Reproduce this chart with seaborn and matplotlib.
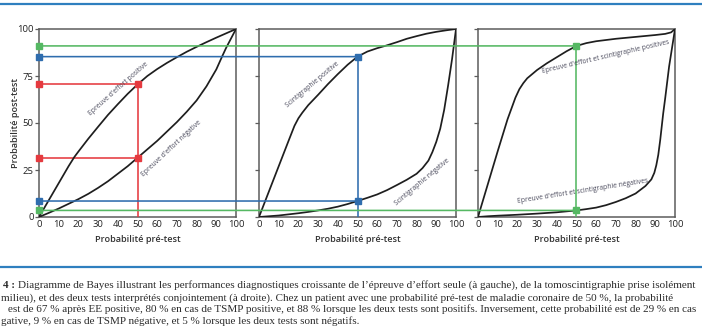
import matplotlib
matplotlib.use("Agg")
import matplotlib.pyplot as plt
import seaborn as sns
import pandas as pd
from matplotlib.patches import ConnectionPatch
from matplotlib.lines import Line2D

# ---------------------------------------------------------------- data
pretest_ticks = [0, 10, 20, 30, 40, 50, 60, 70, 80, 90, 100]
posttest_ticks = [0, 25, 50, 75, 100]

# Exercise test (épreuve d'effort)
ee_pos_x = [0, 5, 10, 15, 18, 20, 25, 30, 35, 40, 45, 50, 55, 60, 65, 70,
            75, 80, 85, 90, 95, 100]
ee_pos_y = [0, 9, 18, 27, 32, 34.8, 41.6, 48, 54.3, 60, 65.5, 70.5, 75,
            78.7, 82, 85, 87.9, 90.5, 93, 95.4, 97.7, 100]
ee_neg_x = [0, 5, 10, 15, 20, 25, 30, 35, 40, 45, 50, 55, 60, 65, 70, 75,
            80, 85, 90, 93, 95, 97, 100]
ee_neg_y = [0, 2.2, 4.5, 7, 9.5, 12.3, 15.5, 19, 23, 27, 31.5, 36, 40.5,
            45.5, 50.5, 56, 62, 69.5, 78.5, 85.5, 90, 94, 100]

# Myocardial scintigraphy
sc_pos_x = [0, 5, 10, 15, 18, 20, 22, 25, 30, 35, 40, 45, 50, 55, 60, 64,
            70, 75, 80, 85, 90, 95, 100]
sc_pos_y = [0, 13.5, 27, 40.5, 48.5, 52.5, 55.5, 59.5, 65, 70.7, 76, 81,
            85.3, 88, 89.8, 91, 93, 94.8, 96.2, 97.5, 98.5, 99.3, 100]
sc_neg_x = [0, 5, 10, 15, 20, 25, 30, 35, 40, 45, 50, 55, 60, 65, 70, 75,
            80, 83, 86, 88, 90, 92, 94, 96, 98, 100]
sc_neg_y = [0, 0.4, 0.8, 1.4, 2, 2.7, 3.5, 4.4, 5.5, 6.9, 8.5, 10.2, 12,
            14.3, 17, 19.8, 23, 26, 30, 34.5, 40, 47, 57, 70, 84, 100]

# Both tests combined
cb_pos_x = [0, 5, 10, 15, 19, 21, 23, 25, 30, 35, 40, 45, 50, 55, 60, 70,
            80, 90, 95, 98, 100]
cb_pos_y = [0, 17.5, 35, 52, 63.5, 68, 71.2, 73.8, 78.2, 81.8, 85, 88.2,
            91, 92.5, 93.5, 94.8, 95.8, 96.8, 97.4, 98.2, 100]
cb_neg_x = [0, 5, 10, 20, 30, 40, 45, 50, 55, 60, 65, 70, 75, 80, 85, 88,
            89.5, 90.5, 91.5, 92.5, 94, 95, 97, 100]
cb_neg_y = [0, 0.4, 0.7, 1.2, 1.8, 2.5, 3, 3.5, 4.2, 5, 6.3, 8, 10, 12.5,
            16.5, 20, 23.5, 27.5, 33, 41, 55, 63, 80, 100]

# Reading at a pre-test probability of 50 %
pretest_ref = 50
ee_post = [70.5, 31.5]
sc_post = [85.3, 8.5]
cb_post = [91, 3.5]

curve_labels = [
    ["Epreuve d'effort positive", "Epreuve d'effort négative"],
    ["Scintigraphie positive", "Scintigraphie négative"],
    ["Epreuve d'effort et scintigraphie positives",
     "Epreuve d'effort et scintigraphie négatives"],
]

caption_label = "4 :"
caption_lines = [
    "Diagramme de Bayes illustrant les performances diagnostiques croissante de l\u2019épreuve d\u2019effort seule (à gauche), de la tomoscintigraphie prise isolément",
    "milieu), et des deux tests interprétés conjointement (à droite). Chez un patient avec une probabilité pré-test de maladie coronaire de 50 %, la probabilité",
    "est de 67 % après EE positive, 80 % en cas de TSMP positive, et 88 % lorsque les deux tests sont positifs. Inversement, cette probabilité est de 29 % en cas",
    "gative, 9 % en cas de TSMP négative, et 5 % lorsque les deux tests sont négatifs.",
]

# ---------------------------------------------------------------- style
sns.set_style("white")
plt.rcParams["font.family"] = ["Open Sans", "DejaVu Sans"]

RED = "#e53a3f"
BLUE = "#2f6dae"
GREEN = "#55b863"
RULE = "#2f7fbf"
SPINE = "#5c5c5c"
LABEL = "#4a4a5c"

W, H = 702, 336
fig = plt.figure(figsize=(W / 100, H / 100), dpi=100)


def fx(px):
    return px / W


def fy(py):
    return 1 - py / H


lefts = [39, 259, 478]
axes = [fig.add_axes([fx(l), fy(217), 197 / W, 188 / H]) for l in lefts]

panels = [
    (ee_pos_x, ee_pos_y, ee_neg_x, ee_neg_y),
    (sc_pos_x, sc_pos_y, sc_neg_x, sc_neg_y),
    (cb_pos_x, cb_pos_y, cb_neg_x, cb_neg_y),
]

label_layout = [
    [((40.5, 68.4), 41.5), ((67, 36.4), 43)],
    [((27, 70.5), 40), ((82.7, 18.8), 40)],
    [((65, 85.4), 13), ((53, 13.6), 9)],
]

for i, (ax, (px, py, nx, ny)) in enumerate(zip(axes, panels)):
    df_pos = pd.DataFrame({"pre": px, "post": py})
    df_neg = pd.DataFrame({"pre": nx, "post": ny})
    sns.lineplot(data=df_pos, x="pre", y="post", ax=ax, color="#1e1e1e",
                 lw=1.25, zorder=4)
    sns.lineplot(data=df_neg, x="pre", y="post", ax=ax, color="#1e1e1e",
                 lw=1.25, zorder=4)

    ax.set_xlim(0, 100)
    ax.set_ylim(0, 100)
    ax.set_xticks(pretest_ticks)
    ax.set_xticklabels([str(t) for t in pretest_ticks])
    ax.set_yticks(posttest_ticks)
    if i == 0:
        ax.set_yticklabels([str(t) for t in posttest_ticks])
    else:
        ax.set_yticklabels([])
    ax.tick_params(axis="x", length=0, pad=2.2, labelsize=6.8,
                   labelcolor="#222222")
    ax.tick_params(axis="y", left=True, length=2.6, width=0.9, color=SPINE,
                   pad=1.2, labelsize=6.8, labelcolor="#222222")
    for s in ax.spines.values():
        s.set_visible(True)
        s.set_color(SPINE)
        s.set_linewidth(1.1)

    ax.set_xlabel("Probabilité pré-test", fontsize=6.6, fontweight="semibold",
                  color="#333333", va="center")
    ax.xaxis.set_label_coords(0.5, (217 - 240) / 188)
    if i == 0:
        ax.set_ylabel("Probabilité post-test", fontsize=6.6,
                      fontweight="semibold", color="#333333", va="center")
        ax.yaxis.set_label_coords((16 - 39) / 197, 0.5)
    else:
        ax.set_ylabel("")

    for txt, ((cx, cy), ang) in zip(curve_labels[i], label_layout[i]):
        ax.text(cx, cy, txt, fontsize=4.9, color=LABEL, rotation=ang,
                rotation_mode="anchor", ha="center", va="center", zorder=5)

# ---------------------------------------------------------------- readings at 50 %
ax1 = axes[0]
readings = [(ee_post, RED, axes[0]), (sc_post, BLUE, axes[1]),
            (cb_post, GREEN, axes[2])]
LW = 1.15
MS = 4.2
for posts, col, axk in readings:
    for yv in posts:
        if axk is ax1:
            ax1.plot([0, pretest_ref], [yv, yv], color=col, lw=LW, zorder=3,
                     solid_capstyle="butt")
        else:
            con = ConnectionPatch(xyA=(0, yv), coordsA=ax1.transData,
                                  xyB=(pretest_ref, yv), coordsB=axk.transData,
                                  color=col, lw=LW, zorder=3)
            fig.add_artist(con)
        ax1.plot([0], [yv], marker="s", ms=MS, color=col, clip_on=False,
                 zorder=6)
        axk.plot([pretest_ref], [yv], marker="s", ms=MS, color=col,
                 clip_on=False, zorder=6)
    axk.plot([pretest_ref, pretest_ref], [0, max(posts)], color=col, lw=LW,
             zorder=3, solid_capstyle="butt")

# ---------------------------------------------------------------- rules & caption
fig.add_artist(Line2D([0, 1], [fy(4), fy(4)], transform=fig.transFigure,
                      color=RULE, lw=1.6))
fig.add_artist(Line2D([0, 1], [fy(267), fy(267)], transform=fig.transFigure,
                      color=RULE, lw=1.6))

cap_kw = dict(fontsize=8.0, color="#2b2b2b", va="baseline", ha="left",
              family=["Liberation Serif", "DejaVu Serif"])
fig.text(fx(3), fy(288), caption_label, fontweight="bold", **cap_kw)
fig.text(fx(18), fy(288), caption_lines[0], **cap_kw)
fig.text(fx(1), fy(300.5), caption_lines[1], **cap_kw)
fig.text(fx(8), fy(312.5), caption_lines[2], **cap_kw)
fig.text(fx(1), fy(324.5), caption_lines[3], **cap_kw)

fig.savefig("out.png", dpi=100)
